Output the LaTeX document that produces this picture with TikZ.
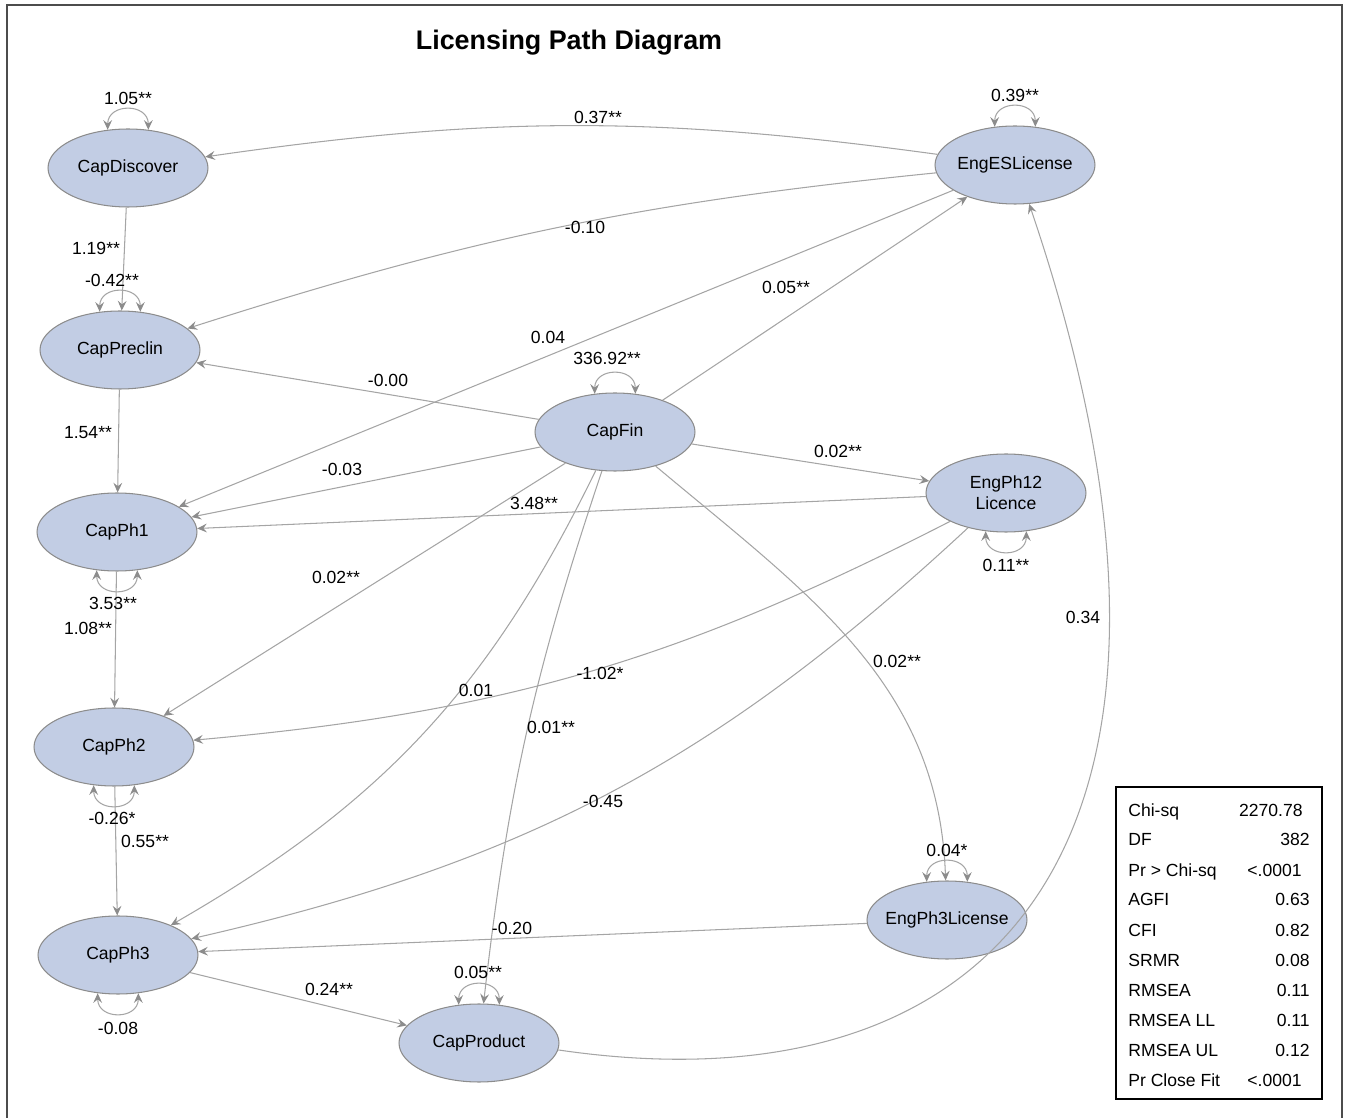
\documentclass[tikz,border=0pt]{standalone}
\usepackage{fontspec}
\setmainfont{Liberation Sans}
\usetikzlibrary{arrows.meta, shapes.geometric, positioning}
\definecolor{latentfill}{RGB}{194,205,228}
\definecolor{latentline}{RGB}{140,140,140}
\definecolor{edgegray}{RGB}{165,165,165}
\definecolor{tipgray}{RGB}{140,140,140}
\tikzset{
  latent/.style={ellipse, draw=latentline, fill=latentfill, line width=0.6pt,
    minimum width=3.2cm, minimum height=1.56cm, inner sep=0pt, align=center,
    font=\fontsize{10}{12}\selectfont},
  effect/.style={draw=edgegray, line width=0.6pt,
    -{Stealth[length=5.5pt,width=5pt,inset=2pt,color=tipgray]}},
  varloop/.style={draw=edgegray, line width=0.6pt,
    {Stealth[length=5.5pt,width=5pt,inset=2pt,color=tipgray]}-{Stealth[length=5.5pt,width=5pt,inset=2pt,color=tipgray]}},
  lbl/.style={font=\fontsize{10}{12}\selectfont, inner sep=1pt},
  fitstat/.style={font=\fontsize{10}{12}\selectfont, inner sep=0pt},
}
% variance loop on top / bottom of a node, with its label
\newcommand\varabove[4]{%
    \draw [varloop] (#1.118) to[out=90,in=90,looseness=1.7] (#1.62);
    \node [lbl] (#1var) at (#3,#4) {#2};
}
\newcommand\varbelow[4]{%
    \draw [varloop] (#1.-118) to[out=-90,in=-90,looseness=1.7] (#1.-62);
    \node [lbl] (#1var) at (#3,#4) {#2};
}

\begin{document}
\begin{tikzpicture}[x=0.02cm, y=0.02cm]

\useasboundingbox (0,0) rectangle (1347,-1118);

% Frame and title
\draw [line width=1.2pt, black!70] (7,-1118) -- (7,-5) -- (1342,-5) -- (1342,-1118);
\node [font=\fontsize{15.3}{18}\selectfont\bfseries] (title) at (569,-43) {Licensing Path Diagram};

% Latent variables
\node [latent] (cd)  at (128,-168)  {CapDiscover};
\node [latent] (cp)  at (120,-350)  {CapPreclin};
\node [latent] (c1)  at (117,-532)  {CapPh1};
\node [latent] (c2)  at (114,-747)  {CapPh2};
\node [latent] (c3)  at (118,-955)  {CapPh3};
\node [latent] (cpr) at (479,-1043) {CapProduct};
\node [latent] (cf)  at (615,-432)  {CapFin};
\node [latent] (es)  at (1015,-165) {\makebox[0pt]{EngESLicense}};
\node [latent] (e12) at (1006,-493) {EngPh12\\Licence};
\node [latent] (e3)  at (947,-920)  {\makebox[0pt]{EngPh3License}};

% Chain of capabilities
\draw [effect] (cd) -- (cp);
\draw [effect] (cp) -- (c1);
\draw [effect] (c1) -- (c2);
\draw [effect] (c2) -- (c3);
\draw [effect] (c3) -- (cpr);
\node [lbl] (l-cd-cp)  at (96,-248)  {1.19**};
\node [lbl] (l-cp-c1)  at (88,-433)  {1.54**};
\node [lbl] (l-c1-c2)  at (88,-628)  {1.08**};
\node [lbl] (l-c2-c3)  at (145,-841) {0.55**};
\node [lbl] (l-c3-cpr) at (329,-989) {0.24**};

% EngESLicense
\draw [effect] (es) to[bend right=8] (cd);
\draw [effect] (es) to[bend right=6] (cp);
\draw [effect] (es) -- (c1);
\node [lbl] (l-es-cd) at (598,-117) {0.37**};
\node [lbl] (l-es-cp) at (585,-227) {-0.10};
\node [lbl] (l-es-c1) at (548,-337) {0.04};

% CapFin
\draw [effect] (cf) -- (es);
\draw [effect] (cf) -- (cp);
\draw [effect] (cf) -- (c1);
\draw [effect] (cf) -- (c2);
\draw [effect] (cf) -- (e12);
\draw [effect] (cf) to[bend left=17] (c3);
\draw [effect] (cf) to[bend right=6] (cpr);
\draw [effect] (cf) to[out=-40,in=92] (e3);
\node [lbl] (l-cf-es)  at (786,-287) {0.05**};
\node [lbl] (l-cf-cp)  at (388,-380) {-0.00};
\node [lbl] (l-cf-c1)  at (342,-469) {-0.03};
\node [lbl] (l-cf-c2)  at (336,-577) {0.02**};
\node [lbl] (l-cf-e12) at (838,-451) {0.02**};
\node [lbl] (l-cf-c3)  at (476,-690) {0.01};
\node [lbl] (l-cf-cpr) at (551,-727) {0.01**};
\node [lbl] (l-cf-e3)  at (897,-661) {0.02**};

% EngPh12Licence and EngPh3License
\draw [effect] (e12) -- (c1);
\draw [effect] (e12) to[bend left=11] (c2);
\draw [effect] (e12) to[bend left=15] (c3);
\draw [effect] (e3) -- (c3);
\node [lbl] (l-e12-c1) at (534,-503) {3.48**};
\node [lbl] (l-e12-c2) at (600,-673) {-1.02*};
\node [lbl] (l-e12-c3) at (603,-801) {-0.45};
\node [lbl] (l-e3-c3)  at (512,-928) {-0.20};

% CapProduct back to EngESLicense
\draw [effect] (cpr.-5) .. controls (1000,-1115) and (1245,-840) .. (es.-70);
\node [lbl] (l-cpr-es) at (1083,-617) {0.34};

% Variances
\varabove{cd}{1.05**}{128}{-98}
\varabove{cp}{-0.42**}{112}{-280}
\varabove{es}{0.39**}{1015}{-95}
\varabove{cf}{336.92**}{607}{-358}
\varbelow{c1}{3.53**}{113}{-603}
\varbelow{e12}{0.11**}{1006}{-565}
\varbelow{c2}{-0.26*}{112}{-818}
\varabove{e3}{0.04*}{947}{-850}
\varabove{cpr}{0.05**}{478}{-972}
\varbelow{c3}{-0.08}{118}{-1028}

% Fit statistics
\draw [line width=1pt] (1116,-787) rectangle (1322,-1099);
\foreach \lab/\val/\xe [count=\i] in {Chi-sq/2270.78/1303, DF/382/1310,
    Pr > Chi-sq/<.0001/1302, AGFI/0.63/1310, CFI/0.82/1310, SRMR/0.08/1310,
    RMSEA/0.11/1310, RMSEA LL/0.11/1310, RMSEA UL/0.12/1310, Pr Close Fit/<.0001/1302} {
  \node [fitstat, anchor=base west] (stat\i) at (1128,{-786-30*\i}) {\lab};
  \node [fitstat, anchor=base east] (val\i) at (\xe,{-786-30*\i}) {\val};
}

\end{tikzpicture}
\end{document}
